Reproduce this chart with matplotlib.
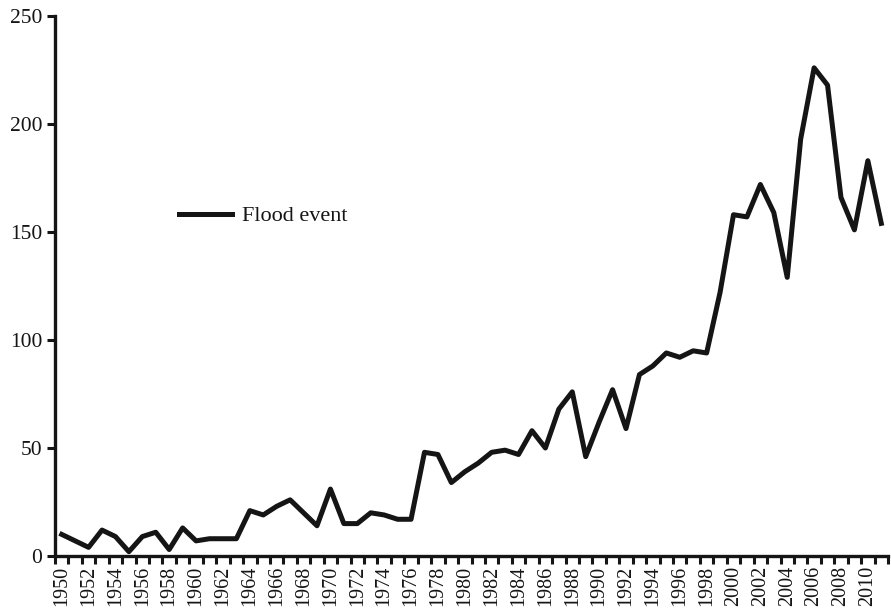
import matplotlib
matplotlib.use("Agg")
import matplotlib.pyplot as plt
import numpy as np

years = list(range(1950, 2012))
flood_events = [10, 7, 4, 12, 9, 2, 9, 11, 3, 13,
                7, 8, 8, 8, 21, 19, 23, 26, 20, 14,
                31, 15, 15, 20, 19, 17, 17, 48, 47, 34,
                39, 43, 48, 49, 47, 58, 50, 68, 76, 46,
                62, 77, 59, 84, 88, 94, 92, 95, 94, 122,
                158, 157, 172, 159, 129, 193, 226, 218, 166, 151,
                183, 154]
y_ticks = [0, 50, 100, 150, 200, 250]

plt.rcParams['font.family'] = ['Liberation Serif', 'DejaVu Serif']
color = '#151515'

fig = plt.figure(figsize=(8.91, 6.14), dpi=100)
ax = fig.add_axes([55/891, 1-556/614, 833/891, 540/614])

x = np.arange(len(years))
ax.plot(x, flood_events, color=color, lw=3.6, solid_joinstyle='round', label='Flood event')

ax.set_xlim(-0.5, len(years) - 0.5)
ax.set_ylim(0, 250)
ax.set_yticks(y_ticks)
ax.set_yticklabels([str(v) for v in y_ticks], fontsize=15.5)

ax.set_xticks(x[::2])
ax.set_xticklabels([str(y) for y in years[::2]], rotation=90, fontsize=14.5)
ax.set_xticks(np.arange(-0.5, len(years)), minor=True)
ax.tick_params(axis='x', which='major', length=0, pad=7)
ax.tick_params(axis='x', which='minor', length=6, width=2.2, color=color)
ax.tick_params(axis='y', which='major', length=6, width=2.2, color=color, pad=3)
ax.tick_params(colors=color, which='both')

for s in ['top', 'right']:
    ax.spines[s].set_visible(False)
for s in ['left', 'bottom']:
    ax.spines[s].set_linewidth(2.4)
    ax.spines[s].set_color(color)

leg = ax.legend(loc='center left', bbox_to_anchor=((179-55)/833, (556-216)/540),
                frameon=False, fontsize=16, handlelength=2.4, handletextpad=0.45,
                borderpad=0, borderaxespad=0)
for t in leg.get_texts():
    t.set_color(color)

fig.savefig('out.png', dpi=100)
